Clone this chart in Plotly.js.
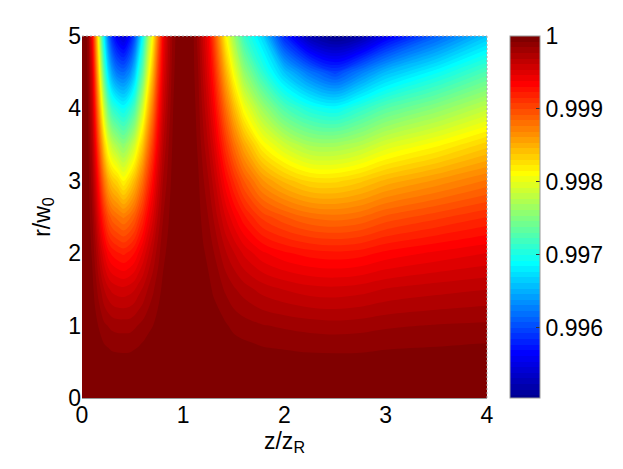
<!DOCTYPE html>
<html><head><meta charset="utf-8">
<script src="https://cdn.plot.ly/plotly-3.0.1.min.js"></script>
<style>html,body{margin:0;padding:0;background:#fff}</style></head>
<body><div id="chart" style="width:623px;height:469px"></div>
<script>
const zAxisValues=[0,.03,.06,.1,.13,.16,.19,.22,.26,.3,.35,.41,.47,.52,.56,.6,.65,.7,.75,.8,.85,.9,.95,1,1.05,1.1,1.15,1.2,1.25,1.3,1.42,1.5,1.6,1.78,2,2.25,2.5,2.75,3,3.5,4];
const rAxisValues=[0,.5,.75,1,1.5,2,2.5,3,3.5,4,4.5,5];
// How far below 1 the field lies, in units of 0.001; one list per z position, r rising.
const deficit=[
[0,0,0,0,0,0,0,0,0,0,0,0],
[0,0,0,0,0,0,.01,.01,.01,.01,.02,.02],
[0,0,0,0,.01,.02,.03,.04,.06,.08,.10,.12],
[0,.01,.01,.02,.05,.09,.14,.20,.27,.35,.45,.62],
[0,.01,.03,.05,.11,.19,.30,.43,.59,.77,.97,1.2],
[0,.02,.04,.08,.18,.31,.49,.70,.96,1.25,1.58,1.86],
[0,.03,.06,.11,.24,.43,.68,.97,1.32,1.73,2.19,2.6],
[0,.03,.08,.14,.31,.54,.85,1.22,1.67,2.18,2.75,3.2],
[0,.04,.09,.16,.37,.66,1.03,1.48,2.01,2.62,3.28,3.8],
[0,.05,.10,.18,.41,.72,1.13,1.62,2.2,2.88,3.6,4.2],
[0,.05,.107,.19,.43,.76,1.19,1.71,2.33,3.0,3.8,4.45],
[0,.05,.109,.19,.44,.79,1.25,1.86,2.45,3.09,3.85,4.6],
[0,.05,.106,.19,.42,.75,1.18,1.72,2.3,2.95,3.7,4.35],
[0,.04,.097,.17,.39,.69,1.08,1.55,2.11,2.75,3.4,4.0],
[0,.04,.086,.15,.34,.61,.95,1.37,1.86,2.43,3.0,3.55],
[0,.03,.074,.13,.30,.53,.83,1.19,1.62,2.11,2.65,3.09],
[0,.03,.057,.10,.23,.41,.64,.92,1.25,1.63,2.05,2.4],
[0,.02,.043,.08,.17,.30,.48,.68,.93,1.22,1.54,1.86],
[0,.01,.027,.05,.11,.19,.30,.43,.59,.77,.97,1.2],
[0,.01,.015,.03,.06,.10,.16,.23,.32,.42,.53,.62],
[0,0,.008,.01,.03,.06,.09,.13,.17,.22,.28,.33],
[0,0,0,0,.01,.02,.03,.04,.06,.08,.10,.12],
[0,0,0,0,0,0,.01,.01,.01,.02,.02,.03],
[0,0,0,0,0,0,0,0,0,0,0,0],
[0,0,0,0,0,0,0,0,0,0,0,.01],
[0,0,0,0,.01,.01,.02,.03,.03,.04,.06,.07],
[0,0,0,.01,.02,.03,.05,.07,.10,.13,.16,.2],
[0,0,.01,.02,.04,.07,.11,.15,.21,.27,.34,.42],
[0,.01,.015,.03,.06,.10,.16,.23,.32,.42,.53,.62],
[0,.01,.02,.04,.09,.15,.24,.34,.47,.61,.77,.95],
[0,.02,.042,.07,.17,.30,.47,.67,.91,1.19,1.51,1.86],
[0,.02,.054,.10,.22,.38,.60,.86,1.18,1.54,1.94,2.35],
[0,.03,.068,.12,.27,.48,.75,1.08,1.47,1.92,2.4,2.85],
[0,.04,.086,.15,.34,.60,.95,1.37,1.86,2.35,2.9,3.3],
[0,.04,.098,.17,.39,.68,1.07,1.57,2.13,2.75,3.4,4.2],
[0,.05,.107,.19,.43,.73,1.17,1.71,2.33,3.0,3.8,4.8],
[0,.05,.111,.20,.44,.75,1.20,1.72,2.35,3.1,4.05,5.0],
[0,.05,.108,.19,.42,.73,1.16,1.64,2.25,2.9,3.75,4.85],
[0,.04,.098,.17,.38,.67,1.06,1.52,2.08,2.7,3.45,4.45],
[0,.04,.087,.15,.34,.60,.95,1.37,1.88,2.45,3.1,3.9],
[0,.03,.077,.14,.31,.54,.85,1.22,1.66,2.18,2.75,3.4]
];
const colorTicks=[.996,.997,.998,.999,1];
const colorTickText=['0.996','0.997','0.998','0.999','1'];
const jet=[[0,'rgb(0,0,143)'],[.125,'rgb(0,0,255)'],[.375,'rgb(0,255,255)'],[.625,'rgb(255,255,0)'],[.875,'rgb(255,0,0)'],[1,'rgb(128,0,0)']];
const font={family:'"Liberation Sans",Arial,sans-serif',size:23,color:'#000'};
const values=deficit.map(col=>col.map(d=>1-d*0.001));
const axis={showgrid:false,zeroline:false,mirror:false,ticks:'',tickfont:font};
const edge=(x0,y0,x1,y1)=>({type:'line',xref:'paper',yref:'paper',x0,y0,x1,y1,layer:'above',line:{color:'#aaa',width:1,dash:'2px,2px'}});
Plotly.newPlot('chart',[{
  type:'contour',x:zAxisValues,y:rAxisValues,z:values,transpose:true,
  colorscale:jet,zmin:.99505,zmax:1,
  autocontour:false,
  contours:{start:.99507,end:.99996,size:.000077,coloring:'fill',showlines:false},
  line:{width:0,smoothing:1},
  colorbar:{x:1.0568,xanchor:'left',y:0.5,yanchor:'middle',len:1,lenmode:'fraction',thickness:30,thicknessmode:'pixels',xpad:0,ypad:0,
    outlinecolor:'#999',outlinewidth:1,tickmode:'array',tickvals:colorTicks,ticktext:colorTickText,ticks:'inside',ticklen:4,tickcolor:'#333',tickfont:font}
}],{
  width:623,height:469,paper_bgcolor:'#fff',plot_bgcolor:'#fff',showlegend:false,
  margin:{l:82,r:136,t:36,b:71,pad:0},
  shapes:[edge(0,1,1,1),edge(1,0,1,1)],
  xaxis:Object.assign({},axis,{range:[0,4],tickvals:[0,1,2,3,4],ticklabelstandoff:-4,showline:true,linecolor:'#999',linewidth:1,title:{text:'z/z<sub>R</sub>',font:font,standoff:1}}),
  yaxis:Object.assign({},axis,{range:[0,5],tickvals:[0,1,2,3,4,5],showline:false,title:{text:'r/w<sub>0</sub>',font:font,standoff:11}})
},{displayModeBar:false,staticPlot:true});
</script></body></html>
